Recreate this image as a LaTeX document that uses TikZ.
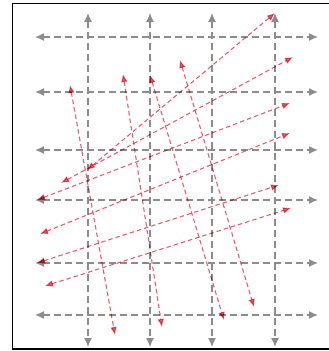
\documentclass[tikz,border=0pt]{standalone}
\usepackage{tikz}
\usetikzlibrary{arrows.meta}

\definecolor{gridgray}{RGB}{140,140,140}
\definecolor{warpred}{RGB}{236,92,110}

\begin{document}
\begin{tikzpicture}[
    x=1pt, y=-1pt,
    frame/.style={draw=black, line width=1.5pt},
    axis/.style={draw=gridgray, line width=1.4pt, dash pattern=on 6.5pt off 4.5pt,
        {Latex[length=9pt,width=8pt]}-{Latex[length=9pt,width=8pt]}},
    warp/.style={draw=warpred, blend mode=multiply, line width=1.1pt, dash pattern=on 4.5pt off 3pt,
        {Latex[length=8pt,width=6.5pt]}-{Latex[length=8pt,width=6.5pt]}}
]
\useasboundingbox (0,0) rectangle (329,351);
\draw[frame] (335,3.5) -- (12.5,3.5) -- (12.5,349) -- (335,349);

% gray grid, columns
\coordinate (col1top) at (88,13);  \coordinate (col1bot) at (88,347);
\coordinate (col2top) at (150,13); \coordinate (col2bot) at (150,347);
\coordinate (col3top) at (212,13); \coordinate (col3bot) at (212,347);
\coordinate (col4top) at (275,13); \coordinate (col4bot) at (275,347);

% gray grid, rows
\coordinate (row1l) at (35,37);  \coordinate (row1r) at (318,37);
\coordinate (row2l) at (35,92);  \coordinate (row2r) at (318,92);
\coordinate (row3l) at (35,150); \coordinate (row3r) at (318,150);
\coordinate (row4l) at (35,200); \coordinate (row4r) at (318,200);
\coordinate (row5l) at (35,263); \coordinate (row5r) at (318,263);
\coordinate (row6l) at (35,315); \coordinate (row6r) at (318,315);

\draw[axis] (col1top) -- (col1bot);
\draw[axis] (col2top) -- (col2bot);
\draw[axis] (col3top) -- (col3bot);
\draw[axis] (col4top) -- (col4bot);

\draw[axis] (row1l) -- (row1r);
\draw[axis] (row2l) -- (row2r);
\draw[axis] (row3l) -- (row3r);
\draw[axis] (row4l) -- (row4r);
\draw[axis] (row5l) -- (row5r);
\draw[axis] (row6l) -- (row6r);

% warped grid, shallow lines
\coordinate (wrow1l) at (87,170); \coordinate (wrow1r) at (275,13);
\coordinate (wrow2l) at (61,183); \coordinate (wrow2r) at (293,57);
\coordinate (wrow3l) at (37,200); \coordinate (wrow3r) at (290,103);
\coordinate (wrow4l) at (40,234); \coordinate (wrow4r) at (290,133);
\coordinate (wrow5l) at (37,263); \coordinate (wrow5r) at (279,185);
\coordinate (wrow6l) at (45,286); \coordinate (wrow6r) at (291,208);

% warped grid, steep lines
\coordinate (wcol1t) at (70,85);  \coordinate (wcol1b) at (115,335);
\coordinate (wcol2t) at (123,74); \coordinate (wcol2b) at (162,327);
\coordinate (wcol3t) at (150,75); \coordinate (wcol3b) at (224,320);
\coordinate (wcol4t) at (180,60); \coordinate (wcol4b) at (254,307);

\draw[warp] (wrow1l) -- (wrow1r);
\draw[warp] (wrow2l) -- (wrow2r);
\draw[warp] (wrow3l) -- (wrow3r);
\draw[warp] (wrow4l) -- (wrow4r);
\draw[warp] (wrow5l) -- (wrow5r);
\draw[warp] (wrow6l) -- (wrow6r);

\draw[warp] (wcol1t) -- (wcol1b);
\draw[warp] (wcol2t) -- (wcol2b);
\draw[warp] (wcol3t) -- (wcol3b);
\draw[warp] (wcol4t) -- (wcol4b);
\end{tikzpicture}
\end{document}
